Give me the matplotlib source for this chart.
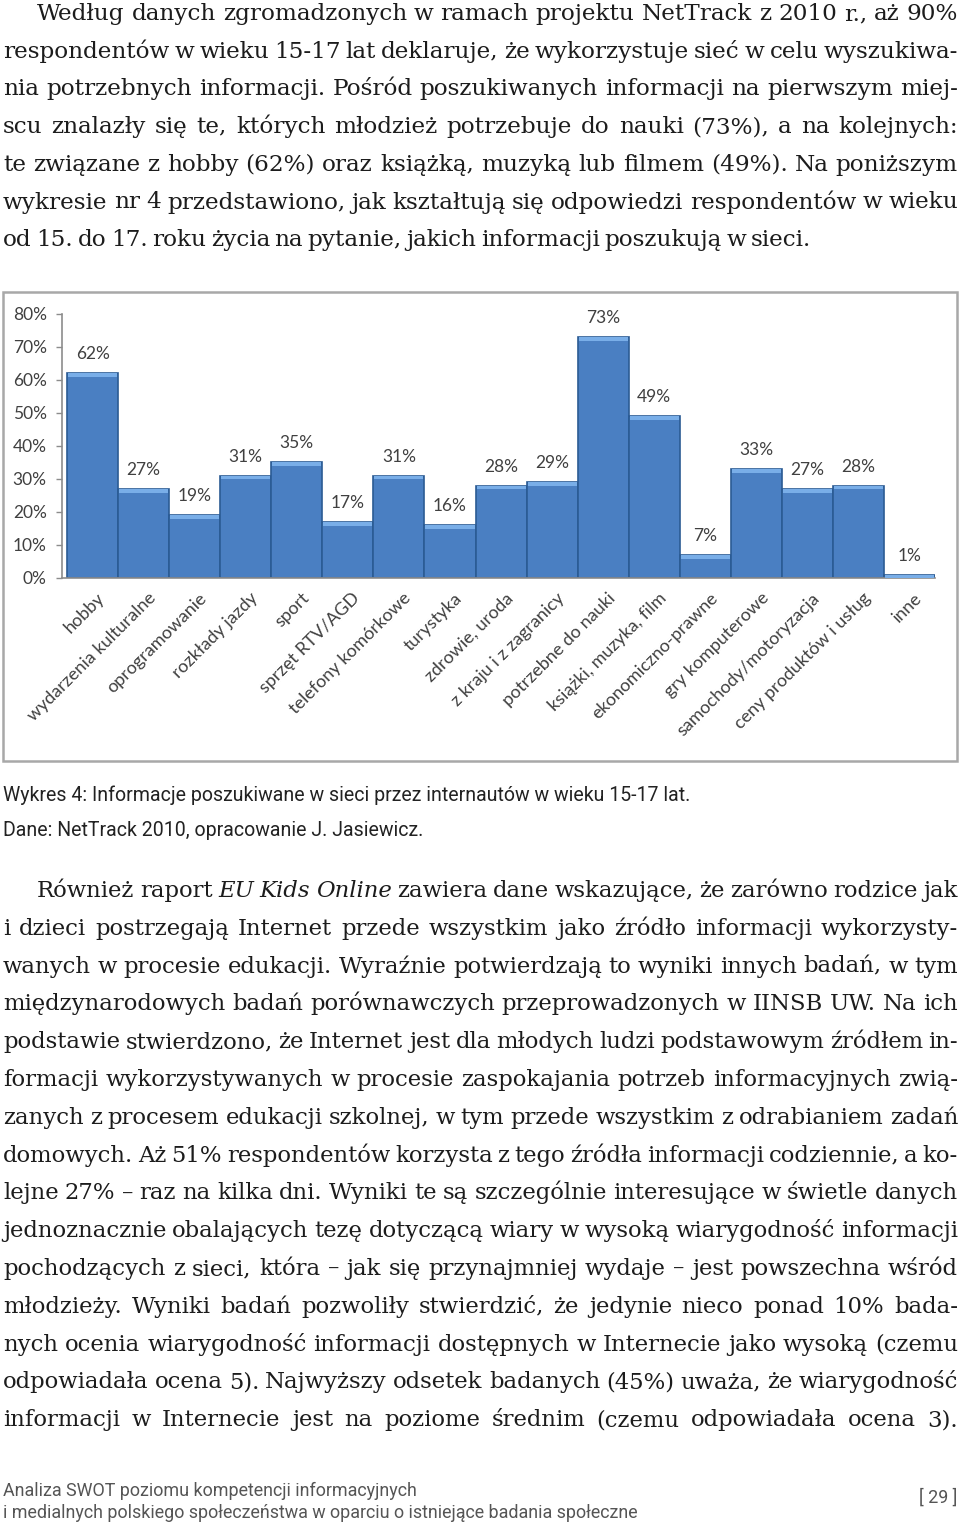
import matplotlib
matplotlib.use('Agg')
import matplotlib.pyplot as plt
from matplotlib.patches import Rectangle

W, H = 960, 1524

# chart data (Wykres 4)
categories = ['hobby', 'wydarzenia kulturalne', 'oprogramowanie', 'rozkłady jazdy', 'sport',
              'sprzęt RTV/AGD', 'telefony komórkowe', 'turystyka', 'zdrowie, uroda',
              'z kraju i z zagranicy', 'potrzebne do nauki', 'książki, muzyka, film',
              'ekonomiczno-prawne', 'gry komputerowe', 'samochody/motoryzacja',
              'ceny produktów i usług', 'inne']
values = [62, 27, 19, 31, 35, 17, 31, 16, 28, 29, 73, 49, 7, 33, 27, 28, 1]
y_ticks = [0, 10, 20, 30, 40, 50, 60, 70, 80]
y_tick_labels = [f'{v}%' for v in y_ticks]

# page text
para_top = [
    "Według danych zgromadzonych w ramach projektu NetTrack z 2010 r., aż 90%",
    "respondentów w wieku 15-17 lat deklaruje, że wykorzystuje sieć w celu wyszukiwa-",
    "nia potrzebnych informacji. Pośród poszukiwanych informacji na pierwszym miej-",
    "scu znalazły się te, których młodzież potrzebuje do nauki (73%), a na kolejnych:",
    "te związane z hobby (62%) oraz książką, muzyką lub filmem (49%). Na poniższym",
    "wykresie nr 4 przedstawiono, jak kształtują się odpowiedzi respondentów w wieku",
    "od 15. do 17. roku życia na pytanie, jakich informacji poszukują w sieci.",
]
para_bottom = [
    "Również raport *EU* *Kids* *Online* zawiera dane wskazujące, że zarówno rodzice jak",
    "i dzieci postrzegają Internet przede wszystkim jako źródło informacji wykorzysty-",
    "wanych w procesie edukacji. Wyraźnie potwierdzają to wyniki innych badań, w tym",
    "międzynarodowych badań porównawczych przeprowadzonych w IINSB UW. Na ich",
    "podstawie stwierdzono, że Internet jest dla młodych ludzi podstawowym źródłem in-",
    "formacji wykorzystywanych w procesie zaspokajania potrzeb informacyjnych zwią-",
    "zanych z procesem edukacji szkolnej, w tym przede wszystkim z odrabianiem zadań",
    "domowych. Aż 51% respondentów korzysta z tego źródła informacji codziennie, a ko-",
    "lejne 27% – raz na kilka dni. Wyniki te są szczególnie interesujące w świetle danych",
    "jednoznacznie obalających tezę dotyczącą wiary w wysoką wiarygodność informacji",
    "pochodzących z sieci, która – jak się przynajmniej wydaje – jest powszechna wśród",
    "młodzieży. Wyniki badań pozwoliły stwierdzić, że jedynie nieco ponad 10% bada-",
    "nych ocenia wiarygodność informacji dostępnych w Internecie jako wysoką (czemu",
    "odpowiadała ocena 5). Najwyższy odsetek badanych (45%) uważa, że wiarygodność",
    "informacji w Internecie jest na poziome średnim (czemu odpowiadała ocena 3).",
]
caption = ['Wykres 4: Informacje poszukiwane w sieci przez internautów w wieku 15-17 lat.',
           'Dane: NetTrack 2010, opracowanie J. Jasiewicz.']
footer = ['Analiza SWOT poziomu kompetencji informacyjnych',
          'i medialnych polskiego społeczeństwa w oparciu o istniejące badania społeczne']
page_no = '[ 29 ]'

SERIF = 'DejaVu Serif'
NARROW = 'Roboto'
CHART = 'Lato'
TXT = '#1c1c1c'
GREY = '#404040'

fig = plt.figure(figsize=(9.6, 15.24), dpi=100)
fig.patch.set_facecolor('white')
r = fig.canvas.get_renderer()


def fx(x):
    return x / W


def fy(y):
    return 1 - y / H


def measure(s, size, **kw):
    t = fig.text(0, 0, s, fontsize=size, **kw)
    w = t.get_window_extent(r).width
    t.remove()
    return w


def paragraph(lines, first_base, step, left=3, right=958, indent=34, size=18, justify_last=False):
    # words per line, *word* = italic
    parsed = []
    for ln in lines:
        ws = []
        for w in ln.split(' '):
            it = w.startswith('*') and w.endswith('*')
            ws.append((w.strip('*'), it))
        parsed.append(ws)
    # shrink font until every line fits with a small word gap
    scale = 1.0
    for i, ws in enumerate(parsed):
        x0 = left + (indent if i == 0 else 0)
        tot = sum(measure(w, size, family=SERIF, style='italic' if it else 'normal') for w, it in ws)
        nat = tot + (len(ws) - 1) * size * 100 / 72 * 0.2
        scale = min(scale, (right - x0) / nat)
    size = size * scale
    for i, ws in enumerate(parsed):
        x0 = left + (indent if i == 0 else 0)
        widths = [measure(w, size, family=SERIF, style='italic' if it else 'normal') for w, it in ws]
        last = (i == len(parsed) - 1) and not justify_last
        if last or len(ws) == 1:
            gap = size * 100 / 72 * 0.2
        else:
            gap = (right - x0 - sum(widths)) / (len(ws) - 1)
        x = x0
        y = first_base + i * step
        for (w, it), wd in zip(ws, widths):
            fig.text(fx(x), fy(y), w, fontsize=size, family=SERIF, color=TXT,
                     style='italic' if it else 'normal', va='baseline', ha='left')
            x += wd + gap


paragraph(para_top, 20, 37.7)
paragraph(para_bottom, 897, 37.8, justify_last=True)

# caption and footer
cap_size = 13.5 * 687 / measure(caption[0], 13.5, family=NARROW)
fig.text(fx(3), fy(801), caption[0], fontsize=cap_size, family=NARROW, color='#222222', va='baseline')
fig.text(fx(3), fy(836), caption[1], fontsize=cap_size, family=NARROW, color='#222222', va='baseline')

foot_size = 11.5 * 637 / measure(footer[1], 11.5, family=NARROW)
fig.text(fx(3), fy(1496), footer[0], fontsize=foot_size, family=NARROW, color='#555555', va='baseline')
fig.text(fx(3), fy(1518), footer[1], fontsize=foot_size, family=NARROW, color='#555555', va='baseline')
fig.text(fx(957), fy(1503), page_no, fontsize=foot_size, family=NARROW, color='#555555',
         va='baseline', ha='right')

# chart frame
fig.add_artist(Rectangle((fx(3), fy(761)), fx(954), 469 / H, transform=fig.transFigure,
                         fill=False, edgecolor='#a8a8a8', linewidth=1.8))

# chart
ax = fig.add_axes([fx(62), fy(578), 873 / W, 264 / H])
x = list(range(len(values)))
ax.bar(x, values, width=1.0, color='#4a7fc2', edgecolor='#2b5b94', linewidth=1.2, zorder=2)
bevel = [min(v, 1.1) for v in values]
ax.bar(x, bevel, bottom=[v - b for v, b in zip(values, bevel)], width=0.96,
       color='#79aee8', linewidth=0, zorder=3)
ax.set_xlim(-0.6, 16.5)
ax.set_ylim(0, 80)
ax.set_yticks(y_ticks)
ax.set_yticklabels(y_tick_labels, family=CHART, fontsize=12.5, color=GREY)
ax.tick_params(axis='y', length=4, width=1, color='#8c8c8c', pad=7)
ax.set_xticks([])
for s in ['top', 'right']:
    ax.spines[s].set_visible(False)
for s in ['left', 'bottom']:
    ax.spines[s].set_color('#8c8c8c')
    ax.spines[s].set_linewidth(1.2)
ax.patch.set_alpha(0)

for i, v in enumerate(values):
    ax.annotate(f'{v}%', xy=(i, v), xytext=(0, 19), textcoords='offset pixels',
                ha='center', va='center', family=CHART, fontsize=12.5, color=GREY)

for i, c in enumerate(categories):
    ax.annotate(c, xy=(i, 0), xytext=(4, -12), textcoords='offset pixels',
                ha='right', va='top', rotation=45, rotation_mode='anchor',
                family=CHART, fontsize=13, color=GREY, annotation_clip=False)

fig.savefig('out.png', dpi=100, facecolor='white')
